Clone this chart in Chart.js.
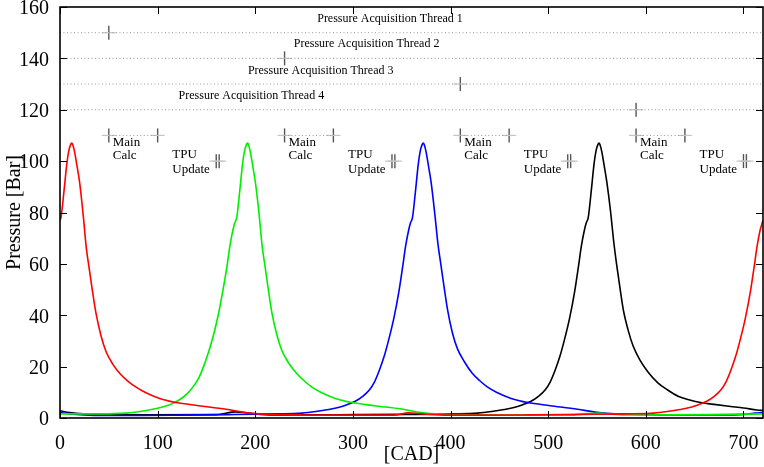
<!DOCTYPE html>
<html>
<head>
<meta charset="utf-8">
<script src="https://cdn.jsdelivr.net/npm/chart.js@4/dist/chart.umd.min.js"></script>
<style>
  body { margin: 0; background: #fff; }
  canvas { display: block; }
</style>
</head>
<body>
<canvas id="myChart" width="764" height="467"></canvas>
<script>
// pressure traces, one per cylinder
const cadRed = [0, 1, 4, 7, 9, 11, 12, 13, 15, 17, 20, 24, 27, 30, 33, 37, 42, 47, 54, 62, 70, 78, 87, 102, 119, 142, 170, 190, 204, 232, 272, 342, 357, 368, 384, 402, 442, 482, 532, 582, 608, 622, 635, 646, 654, 662, 670, 677, 682, 687, 692, 697, 702, 707, 711, 714, 717, 720];
const pRed   = [77, 78, 88, 99, 104, 106.5, 107, 106.5, 103.5, 99, 92, 78, 66, 58, 50, 40.5, 32, 26, 21, 17, 14.2, 12, 10, 7.6, 6, 4.8, 3.4, 2.1, 1.6, 1.3, 1.1, 1.1, 2.0, 1.7, 1.3, 1.1, 1.1, 1.2, 1.4, 1.6, 1.9, 2.5, 3.3, 4.2, 5.2, 6.4, 8.4, 11, 14, 18.5, 24, 31, 39, 49, 59, 67, 73, 77];

const cadGreen = [0, 42, 68, 82, 95, 106, 114, 122, 130, 137, 142, 147, 152, 157, 162, 167, 171, 174, 177, 179, 181, 184, 187, 189, 191, 192, 193, 195, 197, 200, 204, 207, 210, 213, 217, 222, 227, 234, 242, 250, 258, 267, 282, 299, 322, 350, 370, 384, 412, 452, 522, 540, 552, 566, 582, 622, 662, 720];
const pGreen   = [1.6, 1.6, 1.9, 2.5, 3.4, 4.4, 5.4, 7, 9.4, 12.5, 15.5, 20, 25.5, 32, 40, 50, 59, 67, 73, 76, 78, 88, 99, 104, 106.5, 107, 106.5, 103.5, 99, 92, 79, 67, 59, 51, 41, 32.5, 26.5, 21.5, 17.5, 14.5, 12, 10, 7.6, 6, 4.8, 3.5, 2.1, 1.6, 1.3, 1.1, 1.1, 1.7, 1.9, 1.5, 1.2, 1.2, 1.3, 1.6];

const cadBlue = [0, 10, 25, 42, 82, 122, 172, 222, 248, 262, 275, 286, 294, 302, 310, 317, 322, 327, 332, 337, 342, 347, 351, 354, 357, 359, 361, 364, 367, 369, 371, 372, 373, 375, 377, 380, 384, 387, 390, 393, 397, 402, 407, 414, 422, 430, 438, 447, 462, 479, 502, 530, 550, 564, 592, 632, 690, 704, 712, 720];
const pBlue   = [2.1, 1.6, 1.2, 1.0, 1.0, 1.1, 1.3, 1.6, 1.9, 2.5, 3.3, 4.2, 5.2, 6.4, 8.4, 11, 14, 18.5, 24, 31, 39, 49, 59, 67, 73, 76, 78, 88, 99, 104, 106.5, 107, 106.5, 103.5, 99, 92, 79, 68, 60, 52, 42, 33, 27, 22, 17.5, 14.5, 12, 10, 7.6, 6, 4.8, 3.4, 2.2, 1.7, 1.4, 1.2, 1.2, 1.5, 1.9, 2.1];

const cadBlack = [0, 10, 24, 52, 92, 160, 180, 192, 205, 230, 302, 352, 402, 428, 442, 455, 466, 474, 482, 490, 497, 502, 507, 512, 517, 522, 527, 531, 534, 537, 539, 541, 544, 547, 549, 551, 552, 553, 555, 557, 560, 564, 567, 570, 573, 577, 582, 587, 594, 602, 612, 622, 633, 645, 656, 672, 687, 700, 714, 720];
const pBlack   = [2.8, 2.1, 1.6, 1.3, 1.2, 1.3, 2.4, 2.0, 1.4, 1.2, 1.3, 1.4, 1.6, 1.9, 2.5, 3.3, 4.2, 5.2, 6.4, 8.4, 11, 14, 18.5, 24, 31, 39, 49, 59, 67, 73, 76, 78, 88, 99, 104, 106.5, 107, 106.5, 103.5, 99, 92, 80, 69, 60, 52, 42, 34, 28, 22.5, 18, 13.8, 11, 8.5, 7, 6, 5.2, 4.5, 3.9, 3.1, 2.9];

// task timing marks
const threadNames  = ['Pressure Acquisition Thread 1', 'Pressure Acquisition Thread 2', 'Pressure Acquisition Thread 3', 'Pressure Acquisition Thread 4'];
const threadLevels = [150, 140, 130, 120];
const threadStarts = [50, 230, 410, 590];
const threadLabelX = [338, 314, 267, 196];
const threadLabelY = [155.5, 145.5, 135.3, 125.6];

const mainCalcLevel = 110;
const mainCalcStart = [50, 230, 410, 590];
const mainCalcEnd   = [100, 280, 460, 640];

const tpuLevel = 100;
const tpuStart = [160, 340, 520, 700];
const tpuEnd   = [163, 343, 523, 703];

const xTicks = [0, 100, 200, 300, 400, 500, 600, 700];
const yTicks = [0, 20, 40, 60, 80, 100, 120, 140, 160];

const serif = '"Liberation Serif", "Times New Roman", serif';

function pts(xs, ys) {
    return xs.map((v, i) => ({ x: v, y: ys[i] }));
}

function curve(xs, ys, color) {
    return {
        data: pts(xs, ys),
        borderColor: color,
        borderWidth: 1.6,
        pointRadius: 0,
        cubicInterpolationMode: 'monotone',
        fill: false
    };
}

function dotted(data) {
    return {
        data: data,
        borderColor: '#9a9a9a',
        borderWidth: 1,
        borderDash: [1, 2.5],
        pointRadius: 0,
        spanGaps: false
    };
}

// gray dotted lines: thread levels full width, main calc spans
let dottedData = [];
threadLevels.forEach(lv => {
    dottedData.push({ x: 0, y: lv }, { x: 720, y: lv }, { x: 0, y: null });
});
mainCalcStart.forEach((s, i) => {
    dottedData.push({ x: s, y: mainCalcLevel }, { x: mainCalcEnd[i], y: mainCalcLevel }, { x: s, y: null });
});

// cross markers at every start / end
let markPts = [];
threadStarts.forEach((s, i) => markPts.push({ x: s, y: threadLevels[i] }));
mainCalcStart.forEach((s, i) => markPts.push({ x: s, y: mainCalcLevel }, { x: mainCalcEnd[i], y: mainCalcLevel }));
tpuStart.forEach((s, i) => markPts.push({ x: s, y: tpuLevel }, { x: tpuEnd[i], y: tpuLevel }));

function noPad(s) {
    s.paddingLeft = 0; s.paddingRight = 0; s.paddingTop = 0; s.paddingBottom = 0;
}

// draws box frame, inward ticks and text labels
const framePlugin = {
    id: 'framePlugin',
    afterDatasetsDraw(chart) {
        const { ctx, chartArea: a, scales: { x, y } } = chart;
        ctx.save();
        ctx.strokeStyle = '#000';
        ctx.lineWidth = 1;
        xTicks.forEach(v => {
            const px = Math.round(x.getPixelForValue(v)) + 0.5;
            ctx.beginPath();
            ctx.moveTo(px, a.bottom); ctx.lineTo(px, a.bottom - 7);
            ctx.moveTo(px, a.top); ctx.lineTo(px, a.top + 7);
            ctx.stroke();
        });
        yTicks.forEach(v => {
            const py = Math.round(y.getPixelForValue(v)) + 0.5;
            ctx.beginPath();
            ctx.moveTo(a.left, py); ctx.lineTo(a.left + 7, py);
            ctx.moveTo(a.right, py); ctx.lineTo(a.right - 7, py);
            ctx.stroke();
        });
        ctx.lineWidth = 1.6;
        ctx.strokeRect(a.left, a.top, a.right - a.left, a.bottom - a.top);

        ctx.fillStyle = '#000';
        ctx.textBaseline = 'middle';
        ctx.font = '12px ' + serif;
        ctx.textAlign = 'center';
        threadNames.forEach((t, i) => {
            ctx.fillText(t, x.getPixelForValue(threadLabelX[i]), y.getPixelForValue(threadLabelY[i]));
        });
        ctx.font = '13px ' + serif;
        ctx.textAlign = 'left';
        mainCalcStart.forEach(s => {
            const px = x.getPixelForValue(s + 4);
            ctx.fillText('Main', px, y.getPixelForValue(107.4));
            ctx.fillText('Calc', px, y.getPixelForValue(102));
        });
        tpuStart.forEach(s => {
            const px = x.getPixelForValue(s - 45);
            ctx.fillText('TPU', px, y.getPixelForValue(102.4));
            ctx.fillText('Update', px, y.getPixelForValue(96.9));
        });
        ctx.restore();
    }
};

const ctx = document.getElementById('myChart');

new Chart(ctx, {
    type: 'line',
    data: {
        datasets: [
            dotted(dottedData),
            {
                data: markPts, showLine: false,
                pointStyle: 'line', pointRadius: 7, pointBorderWidth: 1.2,
                pointBorderColor: '#c4c4c4', pointBackgroundColor: '#c4c4c4'
            },
            {
                data: markPts, showLine: false,
                pointStyle: 'line', pointRotation: 90, pointRadius: 7, pointBorderWidth: 1.4,
                pointBorderColor: '#555', pointBackgroundColor: '#555'
            },
            curve(cadRed, pRed, '#ff0000'),
            curve(cadGreen, pGreen, '#00ee00'),
            curve(cadBlue, pBlue, '#0000ff'),
            curve(cadBlack, pBlack, '#000000')
        ]
    },
    options: {
        responsive: false,
        animation: false,
        devicePixelRatio: 1,
        layout: { autoPadding: false, padding: { top: 7, right: 1, left: 0, bottom: 0 } },
        plugins: { legend: { display: false }, tooltip: { enabled: false } },
        scales: {
            x: {
                type: 'linear', min: 0, max: 720,
                grid: { display: false }, border: { display: false },
                afterFit: s => { s.height = 49; noPad(s); },
                afterBuildTicks: s => { s.ticks = xTicks.map(v => ({ value: v })); },
                ticks: { color: '#000', padding: 6, maxRotation: 0, font: { family: serif, size: 20 } },
                title: { display: true, text: '[CAD]', color: '#000', padding: 0, font: { family: serif, size: 20 } }
            },
            y: {
                min: 0, max: 160,
                grid: { display: false }, border: { display: false },
                afterFit: s => { s.width = 60; noPad(s); },
                afterBuildTicks: s => { s.ticks = yTicks.map(v => ({ value: v })); },
                ticks: { color: '#000', padding: 3, labelOffset: 2, font: { family: serif, size: 20 } },
                title: { display: true, text: 'Pressure [Bar]', color: '#000', padding: 3, font: { family: serif, size: 20 } }
            }
        }
    },
    plugins: [framePlugin]
});
</script>
</body>
</html>
